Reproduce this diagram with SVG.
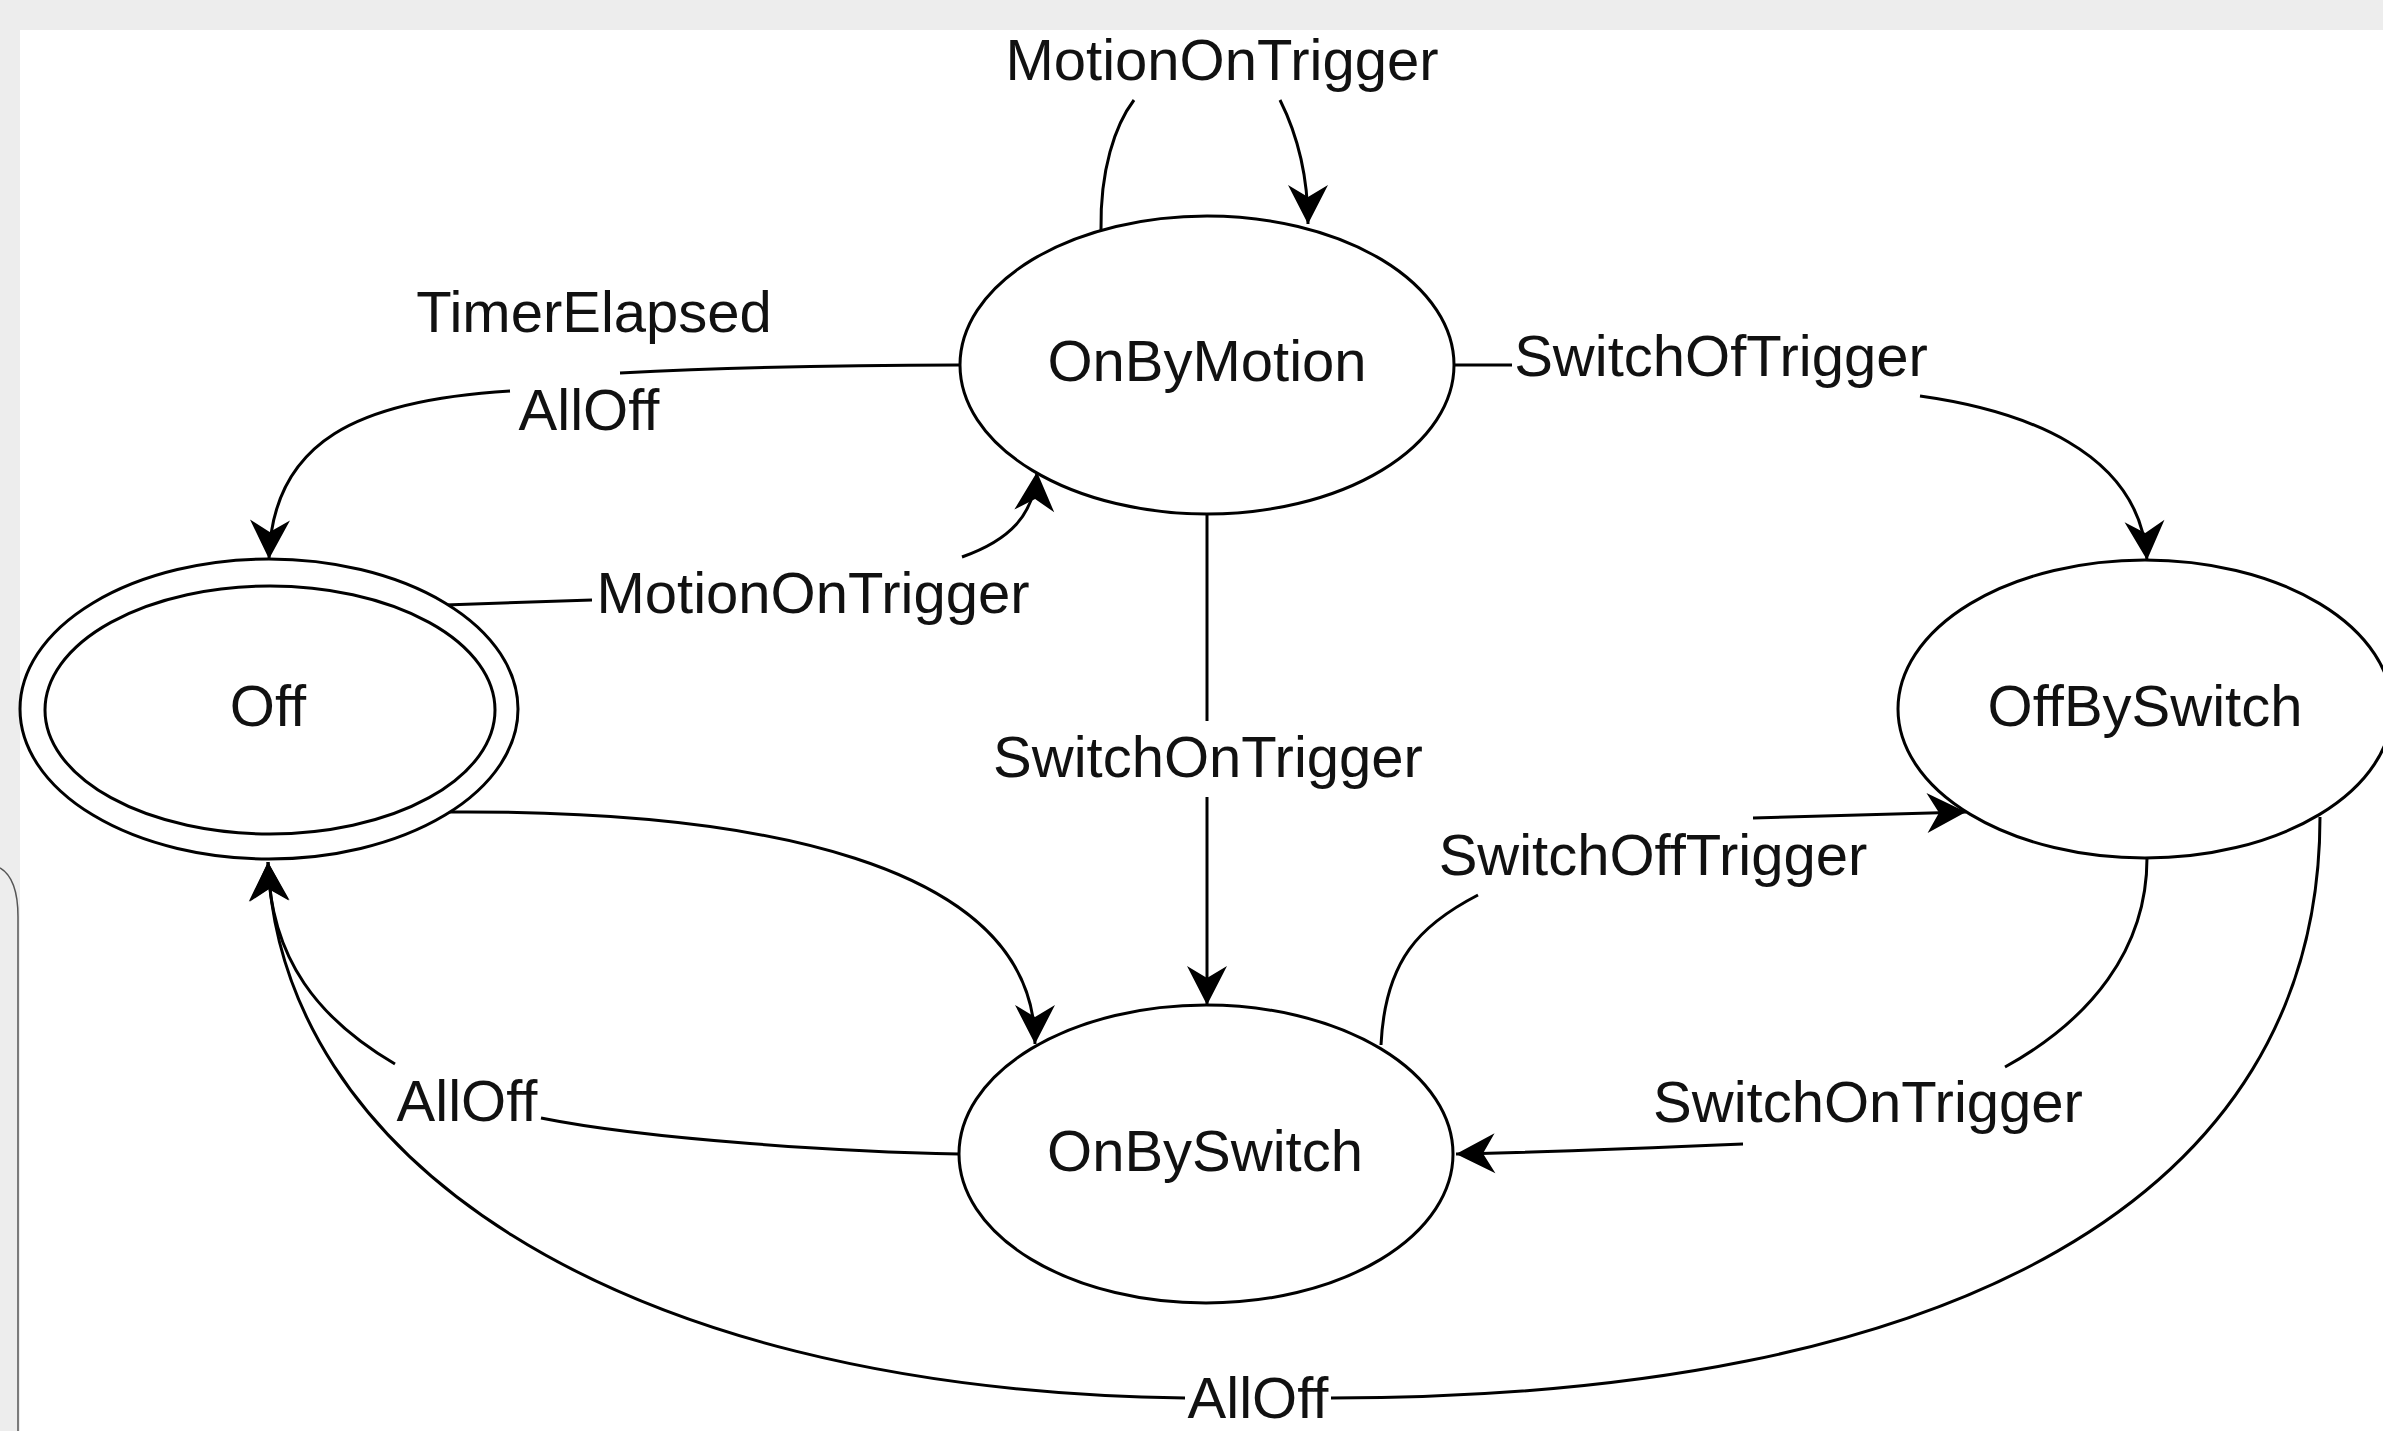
<svg xmlns="http://www.w3.org/2000/svg" width="2383" height="1431" viewBox="0 0 2383 1431">
  <style>
    .node { fill: #ffffff; stroke: #000000; stroke-width: 3; }
    .edge { fill: none; stroke: #000000; stroke-width: 3; }
    .lbl { font-family: "Liberation Sans", Arial, Helvetica, sans-serif; font-size: 58px; fill: #111111; text-anchor: middle; }
  </style>
  <defs>
    <marker id="arrow" markerUnits="userSpaceOnUse" viewBox="-42 -22 44 44" refX="0" refY="0" markerWidth="44" markerHeight="44" orient="auto">
      <path d="M 0 0 L -39 -20 L -27 0 L -39 20 Z" fill="#000000"/>
    </marker>
  </defs>

  <g id="background">
    <rect x="0" y="0" width="2383" height="1431" fill="#ededed"/>
    <rect x="20" y="30" width="2363" height="1401" fill="#ffffff"/>
    <path d="M 0 868 C 12 875 18 890 18 917 L 18 1431" fill="none" stroke="#555555" stroke-width="1.5"/>
  </g>

  <g id="connectors">
    <g id="edge-onbymotion-self">
      <path class="edge" d="M 1101 230 C 1100 170 1115 125 1134 100"/>
      <path class="edge" d="M 1280 100 C 1300 140 1308 180 1308 224" marker-end="url(#arrow)"/>
      <text class="lbl" x="1222" y="80">MotionOnTrigger</text>
    </g>
    <g id="edge-onbymotion-off">
      <path class="edge" d="M 959 365 C 880 365 760 366 620 373"/>
      <path class="edge" d="M 510 391 C 360 400 272 440 269 559" marker-end="url(#arrow)"/>
      <text class="lbl" x="594" y="332">TimerElapsed</text>
      <text class="lbl" x="589" y="430">AllOff</text>
    </g>
    <g id="edge-off-onbymotion">
      <path class="edge" d="M 445 605 L 592 600"/>
      <path class="edge" d="M 962 557 C 1010 540 1034 515 1037 472" marker-end="url(#arrow)"/>
      <text class="lbl" x="813" y="613">MotionOnTrigger</text>
    </g>
    <g id="edge-onbymotion-offbyswitch">
      <path class="edge" d="M 1454 365 L 1512 365"/>
      <path class="edge" d="M 1920 396 C 2020 410 2140 450 2147 560" marker-end="url(#arrow)"/>
      <text class="lbl" x="1721" y="376">SwitchOfTrigger</text>
    </g>
    <g id="edge-onbymotion-onbyswitch">
      <path class="edge" d="M 1207 514 L 1207 721"/>
      <path class="edge" d="M 1207 797 L 1207 1005" marker-end="url(#arrow)"/>
      <text class="lbl" x="1208" y="777">SwitchOnTrigger</text>
    </g>
    <g id="edge-off-onbyswitch">
      <path class="edge" d="M 449 812 C 750 810 1035 860 1035 1044" marker-end="url(#arrow)"/>
    </g>
    <g id="edge-onbyswitch-off">
      <path class="edge" d="M 959 1154 C 850 1152 650 1140 541 1118"/>
      <path class="edge" d="M 395 1064 C 320 1020 270 960 268 862" marker-end="url(#arrow)"/>
      <text class="lbl" x="467" y="1121">AllOff</text>
    </g>
    <g id="edge-offbyswitch-off">
      <path class="edge" d="M 2320 817 C 2320 1200 1950 1398 1331 1398"/>
      <path class="edge" d="M 1185 1398 C 600 1390 280 1150 268 862" marker-end="url(#arrow)"/>
      <text class="lbl" x="1258" y="1418">AllOff</text>
    </g>
    <g id="edge-onbyswitch-offbyswitch">
      <path class="edge" d="M 1381 1045 C 1385 960 1420 925 1478 895"/>
      <path class="edge" d="M 1753 818 L 1966 812" marker-end="url(#arrow)"/>
      <text class="lbl" x="1653" y="875">SwitchOffTrigger</text>
    </g>
    <g id="edge-offbyswitch-onbyswitch">
      <path class="edge" d="M 2147 858 C 2147 950 2090 1020 2005 1067"/>
      <path class="edge" d="M 1743 1144 C 1650 1148 1550 1152 1456 1154" marker-end="url(#arrow)"/>
      <text class="lbl" x="1868" y="1122">SwitchOnTrigger</text>
    </g>
  </g>

  <g id="node-off">
    <ellipse class="node" cx="269" cy="709" rx="249" ry="150"/>
    <ellipse class="node" cx="270" cy="710" rx="225" ry="124"/>
    <text class="lbl" x="268" y="726">Off</text>
  </g>
  <g id="node-onbymotion">
    <ellipse class="node" cx="1207" cy="365" rx="247" ry="149"/>
    <text class="lbl" x="1207" y="381">OnByMotion</text>
  </g>
  <g id="node-offbyswitch">
    <ellipse class="node" cx="2145" cy="709" rx="247" ry="149"/>
    <text class="lbl" x="2145" y="726">OffBySwitch</text>
  </g>
  <g id="node-onbyswitch">
    <ellipse class="node" cx="1206" cy="1154" rx="247" ry="149"/>
    <text class="lbl" x="1205" y="1171">OnBySwitch</text>
  </g>
</svg>
